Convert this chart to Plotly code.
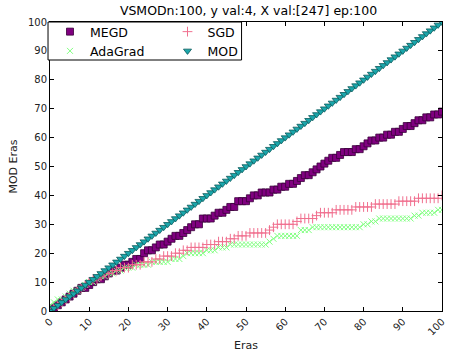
import plotly.graph_objects as go

epochs = list(range(0, 101))

megd = [0, 1, 2, 3, 4, 5, 6, 7, 8, 8, 9, 10, 11, 11, 12, 13, 14, 14, 15, 16,
        16, 17, 18, 18, 20, 21, 21, 22, 23, 23, 24, 25, 26, 26, 27, 28, 29, 30, 30, 32,
        32, 32, 33, 34, 34, 35, 36, 36, 38, 38, 38, 39, 40, 40, 41, 41, 41, 42, 42, 43,
        43, 44, 44, 45, 46, 47, 47, 48, 49, 50, 51, 52, 53, 53, 54, 55, 55, 55, 56, 56,
        57, 58, 59, 59, 60, 60, 61, 61, 62, 62, 63, 64, 64, 65, 66, 66, 67, 67, 68, 68,
        69]

adagrad = [2, 3, 4, 4, 5, 6, 7, 7, 8, 9, 10, 10, 11, 12, 12, 13, 13, 14, 14, 15,
           15, 15, 16, 16, 16, 16, 17, 17, 17, 17, 17, 18, 18, 18, 19, 20, 20, 20, 20, 20,
           21, 21, 21, 22, 22, 22, 23, 23, 23, 23, 23, 23, 23, 23, 23, 23, 24, 25, 26, 26,
           26, 26, 26, 26, 28, 28, 28, 29, 29, 29, 29, 29, 29, 29, 29, 29, 29, 29, 29, 29,
           30, 30, 31, 31, 32, 32, 32, 32, 32, 32, 32, 32, 32, 33, 33, 34, 34, 34, 34, 35,
           35]

sgd = [0, 1, 2, 3, 4, 5, 6, 7, 8, 9, 10, 11, 11, 12, 13, 13, 14, 14, 15, 15,
       15, 16, 16, 16, 17, 17, 17, 18, 18, 19, 19, 19, 20, 20, 21, 21, 22, 22, 22, 22,
       23, 23, 23, 24, 24, 24, 25, 25, 26, 26, 26, 27, 27, 27, 27, 27, 28, 29, 30, 30,
       30, 30, 30, 31, 32, 32, 32, 32, 33, 34, 34, 34, 34, 35, 35, 35, 35, 35, 36, 36,
       36, 36, 36, 37, 37, 37, 37, 37, 37, 38, 38, 38, 38, 38, 39, 39, 39, 39, 39, 39,
       40]

mod = [0, 1, 2, 3, 4, 5, 6, 7, 8, 9, 10, 11, 12, 13, 14, 15, 16, 17, 18, 19,
       20, 21, 22, 23, 24, 25, 26, 27, 28, 29, 30, 31, 32, 33, 34, 35, 36, 37, 38, 39,
       40, 41, 42, 43, 44, 45, 46, 47, 48, 49, 50, 51, 52, 53, 54, 55, 56, 57, 58, 59,
       60, 61, 62, 63, 64, 65, 66, 67, 68, 69, 70, 71, 72, 73, 74, 75, 76, 77, 78, 79,
       80, 81, 82, 83, 84, 85, 86, 87, 88, 89, 90, 91, 92, 93, 94, 95, 96, 97, 98, 99,
       100]

tick_vals = [0, 10, 20, 30, 40, 50, 60, 70, 80, 90, 100]
title_text = "VSMODn:100, y val:4, X val:[247] ep:100"

FONT = "DejaVu Sans"
W, H = 454, 356
ML, MR, MT, MB = 50, 7, 22, 45
PW, PH = W - ML - MR, H - MT - MB

fig = go.Figure()
fig.add_trace(go.Scatter(
    x=epochs, y=megd, mode="markers", name="MEGD", legend="legend", legendrank=1,
    marker=dict(symbol="square", size=7, color="#800080",
                line=dict(color="#3a003a", width=0.8))))
fig.add_trace(go.Scatter(
    x=epochs, y=adagrad, mode="markers", name="AdaGrad", legend="legend", legendrank=2,
    marker=dict(symbol="x-thin", size=6, color="#7fff7f",
                line=dict(color="#7fff7f", width=1))))
fig.add_trace(go.Scatter(
    x=epochs, y=sgd, mode="markers", name="SGD", legend="legend2", legendrank=3,
    marker=dict(symbol="cross-thin", size=7, color="#f0708f",
                line=dict(color="#f0708f", width=1))))
fig.add_trace(go.Scatter(
    x=epochs, y=mod, mode="markers", name="MOD", legend="legend2", legendrank=4,
    marker=dict(symbol="triangle-down", size=7, color="#1aa6ab",
                line=dict(color="#0b5a5c", width=0.8))))

leg_common = dict(y=1 + 5 / PH, yanchor="top", xanchor="left", bgcolor="rgba(0,0,0,0)",
                  borderwidth=0, font=dict(family=FONT, size=12.5, color="black"),
                  itemwidth=30, tracegroupgap=0)

fig.update_layout(
    width=W, height=H,
    margin=dict(l=ML, r=MR, t=MT, b=MB),
    paper_bgcolor="white", plot_bgcolor="white",
    font=dict(family=FONT, color="black"),
    title=dict(text=title_text, x=(ML + PW / 2) / W, xanchor="center",
               y=1 - 10.5 / H, yanchor="middle",
               font=dict(family=FONT, size=12.5, color="black")),
    legend=dict(x=0, **leg_common),
    legend2=dict(x=(169 - ML) / PW, **leg_common),
    shapes=[dict(type="rect", xref="paper", yref="paper",
                 x0=-2 / PW, x1=(244 - ML) / PW, y0=1 - (60 - MT) / PH, y1=1,
                 line=dict(color="black", width=1), fillcolor="white", layer="above")],
    showlegend=True,
)

axis_common = dict(range=[0, 100], tickmode="array", tickvals=tick_vals,
                   showgrid=False, zeroline=False, showline=True, linecolor="black",
                   linewidth=1, mirror="ticks", ticks="inside", ticklen=4,
                   tickcolor="black", tickfont=dict(family=FONT, size=10, color="#222"))

fig.update_xaxes(**axis_common, tickangle=-45,
                 title=dict(text="Eras", font=dict(family=FONT, size=11, color="#222"),
                            standoff=4))
fig.update_yaxes(**axis_common,
                 title=dict(text="MOD Eras", font=dict(family=FONT, size=11, color="#222"),
                            standoff=8))

fig.write_html("out.html")
